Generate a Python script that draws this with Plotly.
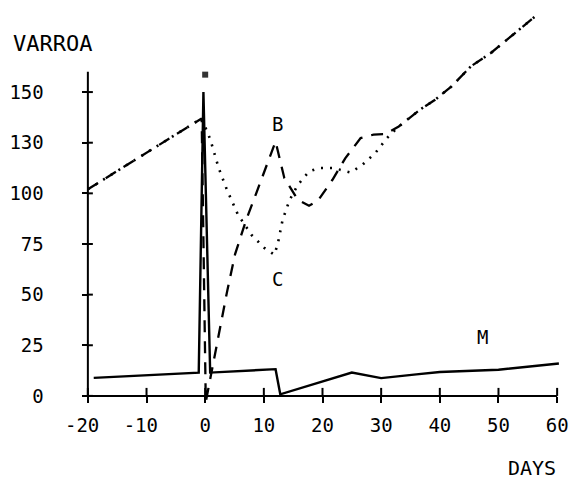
import plotly.graph_objects as go

# ---- data (y in linear axis units; tick labelled "130" sits at 125) ----
b_days = [-20, -0.6, 0.1, 1.5, 3.7, 5.1, 7.0, 8.7, 10.4, 12.0, 13.5, 15.8, 17.7, 19.2,
          21.7, 23.9, 26.5, 28.7, 30.7, 33.0, 36.6, 39.2, 42.0, 45.3, 48.7, 52.1, 55.4, 56.6]
b_vals = [102, 137, -3, 18, 51, 70, 87, 100, 113, 125.6, 107.5, 96.8, 93.9, 96.3,
          106.7, 117.4, 127.3, 129, 129.3, 133, 141.3, 146.2, 152.8, 162.7, 169.3, 177.5, 185.7, 188.2]

c_days = [-20, -0.6, 0.85, 2.3, 3.7, 5.6, 7.9, 10.1, 11.8, 12.4, 13.2, 14.4, 15.8, 17.7,
          19.4, 22.0, 23.4, 24.8, 26.8, 29.0, 31.0, 33.0, 36.6, 39.2, 42.0, 45.3, 48.7, 52.1, 55.4, 56.6]
c_vals = [102, 137, 126.8, 112.5, 101.8, 89.4, 79.5, 73, 69.7, 75.4, 86.9, 96.8, 104.2, 110.8,
          112.5, 112.5, 111.3, 110.3, 114.1, 119.9, 127.3, 133, 141.3, 146.2, 152.8, 162.7, 169.3, 177.5, 185.7, 188.2]

m_days = [-19, -1.1, -0.3, 0.85, 12.0, 12.8, 25.0, 30.0, 36.0, 40.0, 50.0, 60.3]
m_vals = [8.9, 11.5, 150, 11.5, 13.2, 0.8, 11.5, 8.8, 10.6, 11.8, 12.9, 16.0]

treat_day = [0]
treat_val = [158.6]

x_ticks = [-20, -10, 0, 10, 20, 30, 40, 50, 60]
x_labels = ["-20\u00a0", "-10\u00a0", "0", "10", "20", "30", "40", "50", "60"]
y_ticks = [0, 25, 50, 75, 100, 125, 150]
y_labels = ["0", "25", "50", "75", "100", "130", "150"]
PAD = "\u00a0\u00a0\u00a0"

curve_labels = ["B", "C", "M"]
label_days = [12.3, 12.4, 47.3]
label_vals = [134.1, 57.7, 28.9]

FONT = "DejaVu Sans Mono"
X_RANGE = [-21, 61]
Y_RANGE = [-4, 192]

fig = go.Figure()
fig.add_trace(go.Scatter(x=b_days, y=b_vals, mode="lines",
                         line=dict(color="black", width=2.3, dash="12px,9px"), name="B"))
fig.add_trace(go.Scatter(x=c_days, y=c_vals, mode="lines",
                         line=dict(color="black", width=2.6, dash="2px,7px"), name="C"))
fig.add_trace(go.Scatter(x=m_days, y=m_vals, mode="lines",
                         line=dict(color="black", width=2.4), name="M"))
fig.add_trace(go.Scatter(x=treat_day, y=treat_val, mode="markers",
                         marker=dict(symbol="square", size=6, color="#333"), name="treat"))

for txt, xd, yv in zip(curve_labels, label_days, label_vals):
    fig.add_annotation(x=xd, y=yv, xref="x", yref="y", text=txt, showarrow=False,
                       xanchor="center", yanchor="middle",
                       font=dict(family=FONT, size=19, color="black"))

# axis lines
shapes = [
    dict(type="line", xref="x", yref="y", x0=x_ticks[0], x1=x_ticks[-1], y0=0, y1=0,
         line=dict(color="black", width=2)),
    dict(type="line", xref="x", yref="y", x0=x_ticks[0], x1=x_ticks[0], y0=0, y1=160,
         line=dict(color="black", width=2)),
]
# inner halves of the crossing ticks
for t in x_ticks:
    shapes.append(dict(type="line", xref="x", yref="y", ysizemode="pixel", yanchor=0,
                       x0=t, x1=t, y0=0, y1=8, line=dict(color="black", width=2)))
for t in y_ticks:
    shapes.append(dict(type="line", xref="x", yref="y", xsizemode="pixel", xanchor=x_ticks[0],
                       x0=0, x1=5, y0=t, y1=t, line=dict(color="black", width=2)))

fig.update_layout(
    width=576, height=481,
    margin=dict(l=82, r=8, t=7, b=77),
    paper_bgcolor="white", plot_bgcolor="white",
    showlegend=False,
    shapes=shapes,
    xaxis=dict(range=X_RANGE, tickvals=x_ticks, ticktext=x_labels,
               ticks="outside", ticklen=6, tickwidth=2, tickcolor="black",
               showgrid=False, zeroline=False, showline=False,
               anchor="free", position=(0 - Y_RANGE[0]) / (Y_RANGE[1] - Y_RANGE[0]),
               ticklabelstandoff=6,
               tickfont=dict(family=FONT, size=19, color="black")),
    yaxis=dict(range=Y_RANGE, tickvals=y_ticks, ticktext=[s + PAD for s in y_labels],
               ticks="outside", ticklen=6, tickwidth=2, tickcolor="black",
               showgrid=False, zeroline=False, showline=False,
               anchor="free", position=(x_ticks[0] - X_RANGE[0]) / (X_RANGE[1] - X_RANGE[0]),
               tickfont=dict(family=FONT, size=19, color="black")),
)
fig.add_annotation(x=-0.0607, y=0.909, xref="paper", yref="paper", text="VARROA",
                   xanchor="center", yanchor="middle",
                   showarrow=False, font=dict(family=FONT, size=22, color="black"))
fig.add_annotation(x=0.936, y=-0.161, xref="paper", yref="paper", text="DAYS",
                   xanchor="center", yanchor="middle",
                   showarrow=False, font=dict(family=FONT, size=20, color="black"))

fig.write_html("out.html", config={"displayModeBar": False},
               post_script="document.body.style.margin='0';document.body.style.padding='0';")
